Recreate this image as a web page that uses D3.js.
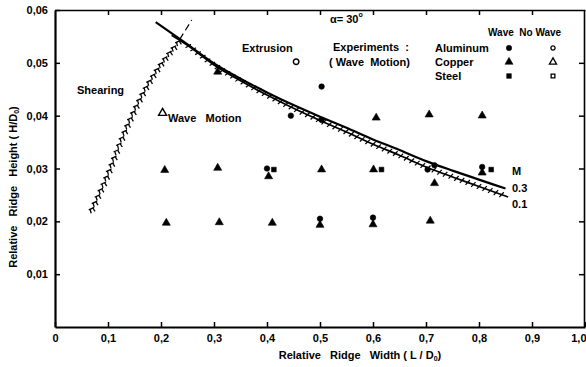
<!DOCTYPE html>
<html><head><meta charset="utf-8">
<script src="https://cdn.jsdelivr.net/npm/d3@7"></script>
<style>
body{margin:0;background:#fff}
svg{display:block}
text{font-family:"Liberation Sans",Arial,sans-serif;font-weight:bold;fill:#000}
</style>
</head><body>
<svg id="c" width="586" height="367"></svg>
<script>
// ---- tick labels ----
const xTicks = [0, 0.1, 0.2, 0.3, 0.4, 0.5, 0.6, 0.7, 0.8, 0.9, 1.0];
const xTickLabels = ["0", "0,1", "0,2", "0,3", "0,4", "0,5", "0,6", "0,7", "0,8", "0,9", "1,0"];
const yTicks = [0.01, 0.02, 0.03, 0.04, 0.05, 0.06];
const yTickLabels = ["0,01", "0,02", "0,03", "0,04", "0,05", "0,06"];

// ---- boundary lines ----
const m03X = [0.19, 0.25, 0.30, 0.35, 0.40, 0.45, 0.50, 0.55, 0.60, 0.65, 0.70, 0.75, 0.80, 0.85];
const m03Y = [0.0577, 0.0535, 0.0499, 0.0470, 0.0444, 0.0420, 0.0398, 0.0377, 0.0355, 0.0335, 0.0314, 0.0296, 0.0279, 0.0262];
const m01X = [0.22, 0.25, 0.30, 0.35, 0.40, 0.45, 0.50, 0.55, 0.60, 0.65, 0.70, 0.75, 0.80, 0.855];
const m01Y = [0.0552, 0.0533, 0.0496, 0.0466, 0.0439, 0.0414, 0.0391, 0.0369, 0.0346, 0.0325, 0.0303, 0.0284, 0.0266, 0.0246];
const shearX = [0.066, 0.098, 0.122, 0.147, 0.173, 0.2015, 0.235];
const shearY = [0.0218, 0.0288, 0.0350, 0.0407, 0.0458, 0.0502, 0.0544];
const shearDashX = [0.235, 0.258];
const shearDashY = [0.0544, 0.0581];

// ---- experiments ----
const aluWaveX = [0.445, 0.503, 0.503, 0.400, 0.703, 0.716, 0.500, 0.600, 0.806];
const aluWaveY = [0.0400, 0.0455, 0.0392, 0.0300, 0.0298, 0.0306, 0.0205, 0.0207, 0.0303];
const aluNoWaveX = [0.455];
const aluNoWaveY = [0.0502];
const cuWaveX = [0.307, 0.606, 0.706, 0.806, 0.207, 0.307, 0.403, 0.503, 0.601, 0.716, 0.806, 0.210, 0.310, 0.410, 0.500, 0.600, 0.708];
const cuWaveY = [0.0483, 0.0396, 0.0402, 0.0400, 0.0297, 0.0301, 0.0285, 0.0298, 0.0298, 0.0272, 0.0292, 0.0197, 0.0198, 0.0197, 0.0193, 0.0194, 0.0201];
const cuNoWaveX = [0.203];
const cuNoWaveY = [0.0405];
const stWaveX = [0.413, 0.616, 0.823];
const stWaveY = [0.0298, 0.0298, 0.0298];

const svg = d3.select("#c");
const x = d3.scaleLinear().domain([0, 1]).range([55, 585]);
const y = d3.scaleLinear().domain([0, 0.06]).range([327, 10]);

// axes
const gB = svg.append("g").attr("transform", "translate(0,327)")
  .call(d3.axisBottom(x).tickValues(xTicks).tickFormat((d, i) => xTickLabels[i]).tickSizeInner(-5).tickSizeOuter(0).tickPadding(7));
const gL = svg.append("g").attr("transform", "translate(55,0)")
  .call(d3.axisLeft(y).tickValues(yTicks).tickFormat((d, i) => yTickLabels[i]).tickSizeInner(-5).tickSizeOuter(0).tickPadding(7));
const gT = svg.append("g").attr("transform", "translate(0,10)")
  .call(d3.axisTop(x).tickValues(xTicks.slice(1, -1)).tickFormat("").tickSizeInner(-5).tickSizeOuter(0));
const gR = svg.append("g").attr("transform", "translate(584,0)")
  .call(d3.axisRight(y).tickValues(yTicks.slice(0, -1)).tickFormat("").tickSizeInner(-5).tickSizeOuter(0));
[gB, gL, gT, gR].forEach(g => {
  g.selectAll("text").attr("font-size", 11).attr("font-family", "Liberation Sans, Arial, sans-serif").attr("font-weight", "bold").attr("fill", "#000");
  g.selectAll("line").attr("stroke", "#000").attr("stroke-width", 1.5);
});
// keep the last x label inside the picture
gB.selectAll(".tick").filter(d => d === 1).select("text").attr("text-anchor", "end").attr("x", 1);
gB.select(".domain").attr("stroke-width", 2.2);
gL.select(".domain").attr("stroke-width", 2.2);
gT.select(".domain").attr("stroke-width", 1.4);
gR.select(".domain").attr("stroke-width", 1.6);

// axis labels
const xl = svg.append("text").attr("x", 360).attr("y", 359).attr("text-anchor", "middle").attr("font-size", 11).style("white-space", "pre");
xl.append("tspan").text("Relative   Ridge   Width ( L / D");
xl.append("tspan").attr("font-size", 7).attr("dy", 2).text("0");
xl.append("tspan").attr("dy", -2).text(")");
const yl = svg.append("text").attr("transform", "translate(17,187) rotate(-90)").attr("text-anchor", "middle").attr("font-size", 11).style("white-space", "pre");
yl.append("tspan").text("Relative   Ridge   Height ( H/D");
yl.append("tspan").attr("font-size", 7).attr("dy", 2).text("0");
yl.append("tspan").attr("dy", -2).text(")");

// boundary lines
const line = d3.line().x(d => x(d[0])).y(d => y(d[1])).curve(d3.curveMonotoneX);
const lineC = d3.line().x(d => x(d[0])).y(d => y(d[1])).curve(d3.curveCatmullRom);
function hatch(pathNode, step, fn) {
  const L = pathNode.getTotalLength();
  for (let s = step / 2; s < L; s += step) {
    const p = pathNode.getPointAtLength(s);
    const q = pathNode.getPointAtLength(Math.min(L, s + 0.5));
    const a = Math.atan2(q.y - p.y, q.x - p.x);
    fn(p, a);
  }
}
const gLines = svg.append("g");
const p03 = gLines.append("path").datum(m03X.map((v, i) => [v, m03Y[i]])).attr("d", line)
  .attr("fill", "none").attr("stroke", "#000").attr("stroke-width", 2.2);
const p01 = gLines.append("path").datum(m01X.map((v, i) => [v, m01Y[i]])).attr("d", line)
  .attr("fill", "none").attr("stroke", "#000").attr("stroke-width", 1.7);
const hG = gLines.append("g").attr("stroke", "#000").attr("stroke-width", 1.2);
hatch(p01.node(), 6, (p, a) => {
  if (p.x < x(0.25)) return;
  const nx = -Math.sin(a), ny = Math.cos(a); // normal pointing down
  const tx = Math.cos(a), ty = Math.sin(a);
  hG.append("line").attr("x1", p.x - nx * 3).attr("y1", p.y - ny * 3)
    .attr("x2", p.x + nx * 3 - tx * 2.5).attr("y2", p.y + ny * 3 - ty * 2.5);
});

// shearing boundary with pi-hatching
const pSh = gLines.append("path").datum(shearX.map((v, i) => [v, shearY[i]])).attr("d", lineC)
  .attr("fill", "none").attr("stroke", "none");
const piG = gLines.append("g").attr("stroke", "#000").attr("stroke-width", 1.3).attr("fill", "none");
hatch(pSh.node(), 7, (p, a) => {
  const r = -25 * Math.PI / 180;
  const cx = Math.cos(r), sx = Math.sin(r);
  const T = ([u, v]) => [p.x + u * cx - v * sx, p.y + u * sx + v * cx];
  const b1 = T([-3, 0]), b2 = T([3, 0]);
  piG.append("line").attr("x1", b1[0]).attr("y1", b1[1]).attr("x2", b2[0]).attr("y2", b2[1]);
  [[-1.5, 0, -2.2, 4], [1.5, 0, 2, 4]].forEach(l => {
    const s = T([l[0], l[1]]), e = T([l[2], l[3]]);
    piG.append("line").attr("x1", s[0]).attr("y1", s[1]).attr("x2", e[0]).attr("y2", e[1]);
  });
});
gLines.append("path").datum(shearDashX.map((v, i) => [v, shearDashY[i]])).attr("d", d3.line().x(d => x(d[0])).y(d => y(d[1])))
  .attr("fill", "none").attr("stroke", "#000").attr("stroke-width", 1.2).attr("stroke-dasharray", "7,4");

// markers
const sym = {
  circle: d3.symbol().type(d3.symbolCircle).size(24),
  triangle: d3.symbol().type(d3.symbolTriangle).size(28),
  square: d3.symbol().type(d3.symbolSquare).size(22)
};
function plot(xs, ys, type, filled) {
  svg.append("g").selectAll("path").data(xs.map((v, i) => [v, ys[i]])).join("path")
    .attr("transform", d => `translate(${x(d[0])},${y(d[1])})`)
    .attr("d", sym[type])
    .attr("fill", filled ? "#000" : "#fff").attr("stroke", "#000").attr("stroke-width", filled ? 0.6 : 1.4);
}
plot(aluWaveX, aluWaveY, "circle", true);
plot(aluNoWaveX, aluNoWaveY, "circle", false);
plot(cuWaveX, cuWaveY, "triangle", true);
plot(cuNoWaveX, cuNoWaveY, "triangle", false);
plot(stWaveX, stWaveY, "square", true);

// legend
const legend = [["Aluminum", "circle"], ["Copper", "triangle"], ["Steel", "square"]];
svg.append("text").attr("x", 488).attr("y", 36).attr("font-size", 10).style("white-space", "pre").text("Wave  No Wave");
legend.forEach((l, i) => {
  const yy = 48 + i * 14;
  svg.append("text").attr("x", 435).attr("y", yy + 4).attr("font-size", 11).text(l[0]);
  svg.append("path").attr("transform", `translate(509,${yy})`).attr("d", sym[l[1]]).attr("fill", "#000").attr("stroke", "#000").attr("stroke-width", 0.5);
  svg.append("path").attr("transform", `translate(553,${yy})`).attr("d", d3.symbol().type(l[1] === "circle" ? d3.symbolCircle : l[1] === "triangle" ? d3.symbolTriangle : d3.symbolSquare).size(l[1] === "triangle" ? 22 : 14))
    .attr("fill", "#fff").attr("stroke", "#000").attr("stroke-width", 1.3);
});

// annotations
const al = svg.append("text").attr("x", 330).attr("y", 23).attr("font-size", 11);
al.append("tspan").text("α= 30");
al.append("tspan").attr("font-size", 7).attr("dy", -6).text("o");
svg.append("text").attr("x", 333).attr("y", 51).attr("font-size", 11).style("white-space", "pre").text("Experiments  :");
svg.append("text").attr("x", 329).attr("y", 66).attr("font-size", 11).style("white-space", "pre").text("( Wave  Motion)");
svg.append("text").attr("x", 242).attr("y", 52).attr("font-size", 11).text("Extrusion");
svg.append("text").attr("x", 77).attr("y", 94).attr("font-size", 11).text("Shearing");
svg.append("text").attr("x", 168).attr("y", 122).attr("font-size", 11).style("white-space", "pre").text("Wave   Motion");
svg.append("text").attr("x", 512).attr("y", 175).attr("font-size", 11).text("M");
svg.append("text").attr("x", 512).attr("y", 192).attr("font-size", 11).text("0.3");
svg.append("text").attr("x", 512).attr("y", 208).attr("font-size", 11).text("0.1");
</script>
</body></html>
